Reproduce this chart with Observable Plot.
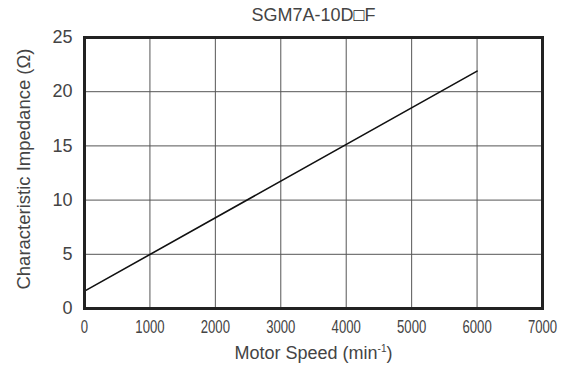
<!DOCTYPE html>
<html>
<head>
<meta charset="utf-8">
<script src="https://cdn.jsdelivr.net/npm/d3@7"></script>
<script src="https://cdn.jsdelivr.net/npm/@observablehq/plot@0.6"></script>
<style>
  html, body { margin: 0; padding: 0; background: #fff; }
  #chart svg { display: block; }
</style>
</head>
<body>
<div id="chart"></div>
<script>
const titleParts = ["SGM7A-10D", "\u25A1", "F"];
const xLabel = "Motor Speed (min";
const xLabelSup = "-1";
const yLabel = "Characteristic Impedance (\u03A9)";
const xTicks = [0, 1000, 2000, 3000, 4000, 5000, 6000, 7000];
const yTicks = [0, 5, 10, 15, 20, 25];
const speed = [0, 6000];
const impedance = [1.6, 21.9];

const data = speed.map((s, i) => ({speed: s, z: impedance[i]}));

const font = "'Liberation Sans', Arial, Helvetica, sans-serif";
const textColor = "#444";

const chart = Plot.plot({
  width: 578,
  height: 371,
  marginLeft: 84,
  marginRight: 36,
  marginTop: 37,
  marginBottom: 63,
  style: {fontFamily: font, fontSize: "18px", color: textColor, background: "#fff"},
  x: {domain: [0, 7000], ticks: xTicks, label: null},
  y: {domain: [0, 25], ticks: yTicks, label: null},
  marks: [
    Plot.gridX(xTicks, {stroke: "#555", strokeOpacity: 1, strokeWidth: 1}),
    Plot.gridY(yTicks, {stroke: "#555", strokeOpacity: 1, strokeWidth: 1}),
    Plot.line(data, {x: "speed", y: "z", stroke: "#111", strokeWidth: 1.6}),
    Plot.frame({stroke: "#222", strokeWidth: 3}),
    Plot.axisX(xTicks, {tickSize: 0, tickPadding: 11, fontSize: 18.5, fill: textColor, fontFamily: font, tickFormat: d => String(d)}),
    Plot.axisY(yTicks, {tickSize: 0, tickPadding: 12, fontSize: 18, fill: textColor, fontFamily: font, tickFormat: d => String(d)}),
    Plot.text([titleParts.join("")], {frameAnchor: "top", dy: -29, fontSize: 18, fill: textColor, fontFamily: font, className: "ttl"}),
    Plot.text([xLabel], {frameAnchor: "bottom", dy: 50, fontSize: 18, fill: textColor, fontFamily: font, className: "xlab"}),
    Plot.text([yLabel], {frameAnchor: "left", dx: -60, dy: -4, rotate: -90, textAnchor: "middle", fontSize: 18.5, fill: textColor, fontFamily: font})
  ]
});

document.getElementById("chart").appendChild(chart);

const NS = "http://www.w3.org/2000/svg";
// condensed x tick labels, as in the reference
chart.querySelectorAll('g[aria-label="x-axis tick label"] text').forEach(t => {
  const n = t.textContent.length;
  t.setAttribute("textLength", String(7.3 * n));
  t.setAttribute("lengthAdjust", "spacingAndGlyphs");
});
// bold square in title
const tt = chart.querySelector(".ttl text");
if (tt) {
  tt.textContent = "";
  titleParts.forEach((p, i) => {
    const ts = document.createElementNS(NS, "tspan");
    ts.textContent = p;
    if (i === 1) { ts.setAttribute("font-weight", "bold"); ts.setAttribute("fill", "#222"); }
    tt.appendChild(ts);
  });
}
// superscript on x-axis label
const xl = chart.querySelector(".xlab text");
if (xl) {
  const sup = document.createElementNS(NS, "tspan");
  sup.setAttribute("dy", "-7");
  sup.setAttribute("font-size", "10");
  sup.textContent = xLabelSup;
  const close = document.createElementNS(NS, "tspan");
  close.setAttribute("dy", "7");
  close.textContent = ")";
  xl.appendChild(sup);
  xl.appendChild(close);
}
</script>
</body>
</html>
